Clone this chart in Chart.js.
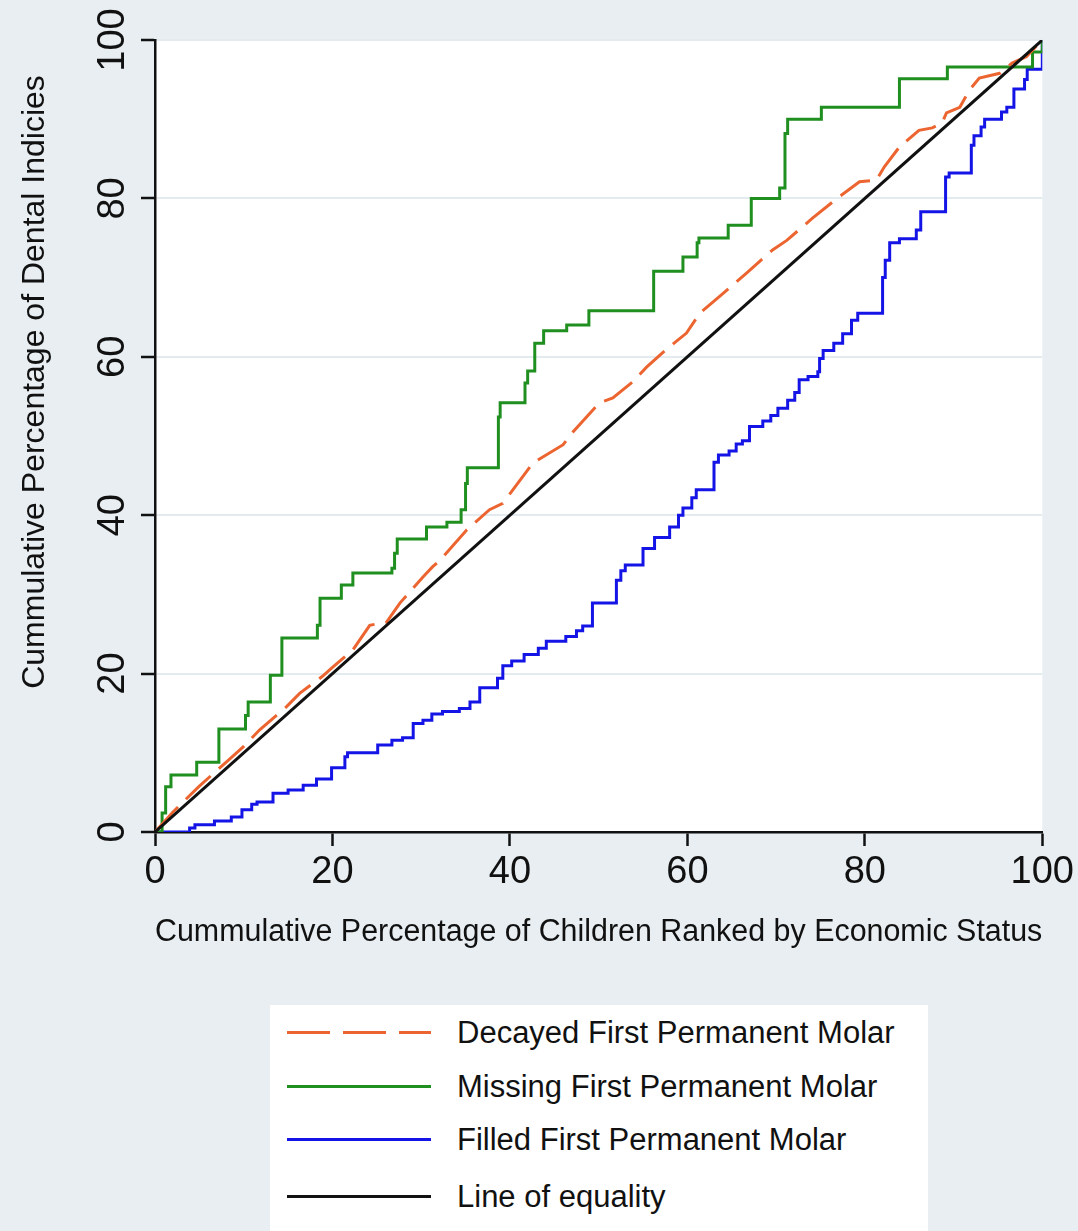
<!DOCTYPE html>
<html>
<head>
<meta charset="utf-8">
<script src="https://cdn.jsdelivr.net/npm/chart.js@4.4.0/dist/chart.umd.min.js"></script>
<style>
  html, body { margin: 0; padding: 0; background: #e8eef2; }
  #wrap { position: relative; width: 1078px; height: 1231px; }
  #legend {
    position: absolute; left: 270px; top: 1005px; width: 658px; height: 226px;
    background: #fff; font-family: "Liberation Sans", Arial, sans-serif;
    font-size: 31px; color: #111;
  }
  .item { position: absolute; left: 0; width: 100%; height: 40px; }
  .swatch { position: absolute; left: 17px; top: 18px; width: 144px; height: 3px; }
  .label { position: absolute; left: 187px; top: 0; line-height: 40px; white-space: nowrap; }
</style>
</head>
<body>
<div id="wrap">
  <canvas id="lorenzChart"></canvas>
  <div id="legend"></div>
</div>
<script>
// --- DATA ---
const xTitle = 'Cummulative Percentage of Children Ranked by Economic Status';
const yTitle = 'Cummulative Percentage of Dental Indicies';
const tickValues = [0, 20, 40, 60, 80, 100];

// Decayed First Permanent Molar (dashed)
const decayedX = [0, 2, 5, 8, 10, 11.8, 14.8, 16.3, 18.8, 20, 22.3, 24.2, 26.1, 27.6, 30.2, 31.3, 32.1,
  35.1, 37.7, 39.2, 42.6, 46, 47.1, 50.1, 51.6, 53.8, 55.4, 57.6, 59.9, 61.4, 63.6, 66.7, 69.6, 71.2,
  74.1, 77.1, 79.4, 81.3, 82.2, 83.9, 86.1, 87.6, 88.7, 89.2, 90.7, 91.8, 92.9, 95.2, 96.6, 98.2, 100];
const decayedY = [0, 2.5, 5.8, 8.8, 10.8, 12.9, 15.8, 17.5, 19.6, 20.8, 23.0, 26.1, 26.5, 28.9, 32.2, 33.5, 34.3,
  38.1, 40.7, 41.5, 46.6, 48.9, 50.5, 54.2, 54.8, 56.8, 58.7, 60.9, 63.0, 65.5, 67.6, 70.6, 73.5, 74.7,
  77.5, 80.2, 82.1, 82.3, 84.0, 86.5, 88.6, 88.9, 89.5, 90.8, 91.5, 93.7, 95.2, 95.8, 97.1, 97.9, 100];

// Missing First Permanent Molar (step curve: each level starts at its x)
const missingX = [0, 0.8, 1.2, 1.8, 4.7, 7.2, 10.2, 10.5, 13.0, 14.3, 18.3, 18.6, 21.0, 22.3, 26.7, 27.0, 27.3,
  30.6, 32.9, 34.5, 35.0, 35.2, 38.7, 38.9, 41.7, 42.0, 42.8, 43.8, 46.4, 48.9, 56.2, 59.5, 61.1, 61.3,
  64.6, 67.2, 70.4, 71.0, 71.3, 75.1, 83.9, 89.3, 98.9, 100];
const missingY = [0, 2.4, 5.7, 7.2, 8.8, 13.0, 14.7, 16.4, 19.8, 24.5, 26.1, 29.5, 31.2, 32.7, 33.3, 35.2, 37.0,
  38.5, 39.1, 40.7, 44.0, 46.0, 52.4, 54.2, 56.7, 58.2, 61.7, 63.3, 64.0, 65.8, 70.8, 72.6, 74.4, 75.0,
  76.6, 80.0, 81.3, 88.2, 90.0, 91.5, 95.1, 96.6, 98.5, 100];

// Filled First Permanent Molar (step curve)
const filledX = [0, 3.9, 4.5, 6.7, 8.6, 9.8, 10.9, 11.5, 13.3, 15, 16.7, 18.2, 19.9, 21.4, 21.7, 25.1, 26.7,
  27.9, 29.1, 30.2, 31.2, 32.4, 34.3, 35.5, 36.6, 38.6, 39.2, 40.2, 41.6, 43.2, 44.1, 46.3, 47.5, 48.2,
  49.3, 52.0, 52.5, 53.0, 55.0, 56.3, 58.0, 59.0, 59.5, 60.5, 61.0, 63.0, 63.5, 64.7, 65.5, 66.2, 67.0,
  68.5, 69.4, 70.2, 71.3, 72.1, 72.6, 73.6, 74.7, 74.9, 75.3, 76.5, 77.5, 78.5, 79.2, 82.0, 82.3, 82.8,
  83.9, 85.8, 86.3, 89.1, 89.5, 92.0, 92.3, 93.1, 93.5, 95.4, 96.0, 96.8, 98.0, 98.3, 100];
const filledY = [0, 0.5, 0.9, 1.4, 1.9, 2.8, 3.5, 3.8, 4.9, 5.3, 5.9, 6.7, 8.1, 9.5, 10.0, 11.0, 11.6,
  11.9, 13.7, 14.1, 14.9, 15.2, 15.6, 16.4, 18.2, 19.4, 21.0, 21.6, 22.4, 23.2, 24.1, 24.7, 25.4, 26.0,
  28.9, 31.8, 33.0, 33.7, 35.8, 37.2, 38.5, 40.0, 40.9, 42.2, 43.2, 46.7, 47.6, 48.1, 49.0, 49.4, 51.2,
  51.9, 52.6, 53.5, 54.5, 55.5, 57.1, 57.5, 58.1, 59.8, 60.8, 61.7, 62.9, 64.6, 65.5, 70.0, 72.2, 74.4,
  74.9, 76.0, 78.3, 82.7, 83.2, 86.7, 87.9, 89.0, 90.0, 90.9, 91.5, 93.8, 95.0, 96.3, 100];

// Line of equality
const equalityX = [0, 100];
const equalityY = [0, 100];

// --- COLORS ---
const colDecayed = '#ec6530';
const colMissing = '#1f8f1f';
const colFilled = '#1414e6';
const colEquality = '#111111';
const fontFamily = '"Liberation Sans", Arial, sans-serif';

const toPoints = (xs, ys) => xs.map((x, i) => ({ x: x, y: ys[i] }));

// white plot region
const plotBackground = {
  id: 'plotBackground',
  beforeDraw(chart) {
    const { ctx, chartArea } = chart;
    ctx.save();
    ctx.fillStyle = '#ffffff';
    ctx.fillRect(chartArea.left, chartArea.top, chartArea.right - chartArea.left, chartArea.bottom - chartArea.top);
    ctx.restore();
  }
};

// y title sits a bit above the axis centre in the original
const yTitlePlugin = {
  id: 'yTitlePlugin',
  afterDraw(chart) {
    const ctx = chart.ctx;
    ctx.save();
    ctx.translate(35, 382);
    ctx.rotate(-Math.PI / 2);
    ctx.font = '32px ' + fontFamily;
    ctx.fillStyle = '#111';
    ctx.textAlign = 'center';
    ctx.textBaseline = 'middle';
    ctx.fillText(yTitle, 0, 0);
    ctx.restore();
  }
};

new Chart(document.getElementById('lorenzChart'), {
  type: 'line',
  data: {
    datasets: [
      {
        label: 'Line of equality',
        data: toPoints(equalityX, equalityY),
        borderColor: colEquality,
        borderWidth: 3,
        pointRadius: 0,
        order: 0
      },
      {
        label: 'Decayed First Permanent Molar',
        data: toPoints(decayedX, decayedY),
        borderColor: colDecayed,
        borderWidth: 3,
        borderDash: [34, 11],
        pointRadius: 0,
        order: 1
      },
      {
        label: 'Missing First Permanent Molar',
        data: toPoints(missingX, missingY),
        borderColor: colMissing,
        borderWidth: 3,
        stepped: 'before',
        pointRadius: 0,
        order: 2
      },
      {
        label: 'Filled First Permanent Molar',
        data: toPoints(filledX, filledY),
        borderColor: colFilled,
        borderWidth: 3,
        stepped: 'before',
        pointRadius: 0,
        order: 3
      }
    ]
  },
  options: {
    responsive: true,
    maintainAspectRatio: false,
    animation: false,
    layout: { padding: { left: 0, top: 40, right: 35, bottom: 269 } },
    plugins: {
      legend: { display: false },
      tooltip: { enabled: false }
    },
    scales: {
      x: {
        type: 'linear',
        min: 0,
        max: 100,
        afterBuildTicks: s => { s.ticks = tickValues.map(v => ({ value: v })); },
        afterFit: s => { s.height = 130; },
        ticks: {
          color: '#111',
          padding: 4,
          maxRotation: 0,
          font: { family: fontFamily, size: 38 }
        },
        grid: {
          drawOnChartArea: false,
          tickLength: 14,
          tickColor: '#111',
          tickWidth: 2.5
        },
        border: { display: true, color: '#111', width: 2.5 },
        title: {
          display: true,
          text: xTitle,
          color: '#111',
          font: { family: fontFamily, size: 31 },
          padding: { top: 0, bottom: 11 }
        }
      },
      y: {
        type: 'linear',
        min: 0,
        max: 100,
        afterBuildTicks: s => { s.ticks = tickValues.map(v => ({ value: v })); },
        afterFit: s => { s.width = 155; },
        ticks: {
          color: '#111',
          minRotation: 90,
          maxRotation: 90,
          crossAlign: 'center',
          padding: -4,
          font: { family: fontFamily, size: 38 }
        },
        grid: {
          color: '#e4ebef',
          lineWidth: 2,
          tickLength: 14,
          tickColor: '#111',
          tickWidth: 2.5
        },
        border: { display: true, color: '#111', width: 2.5 }
      }
    }
  },
  plugins: [plotBackground, yTitlePlugin]
});

// --- HTML legend ---
const legendItems = [
  { text: 'Decayed First Permanent Molar', color: colDecayed, dashed: true, top: 8 },
  { text: 'Missing First Permanent Molar', color: colMissing, dashed: false, top: 62 },
  { text: 'Filled First Permanent Molar', color: colFilled, dashed: false, top: 115 },
  { text: 'Line of equality', color: colEquality, dashed: false, top: 172 }
];
const legendEl = document.getElementById('legend');
legendItems.forEach(item => {
  const row = document.createElement('div');
  row.className = 'item';
  row.style.top = item.top + 'px';
  const sw = document.createElement('div');
  sw.className = 'swatch';
  sw.style.background = item.dashed
    ? 'repeating-linear-gradient(to right, ' + item.color + ' 0 43px, transparent 43px 56px)'
    : item.color;
  const lb = document.createElement('div');
  lb.className = 'label';
  lb.textContent = item.text;
  row.appendChild(sw);
  row.appendChild(lb);
  legendEl.appendChild(row);
});
</script>
</body>
</html>
